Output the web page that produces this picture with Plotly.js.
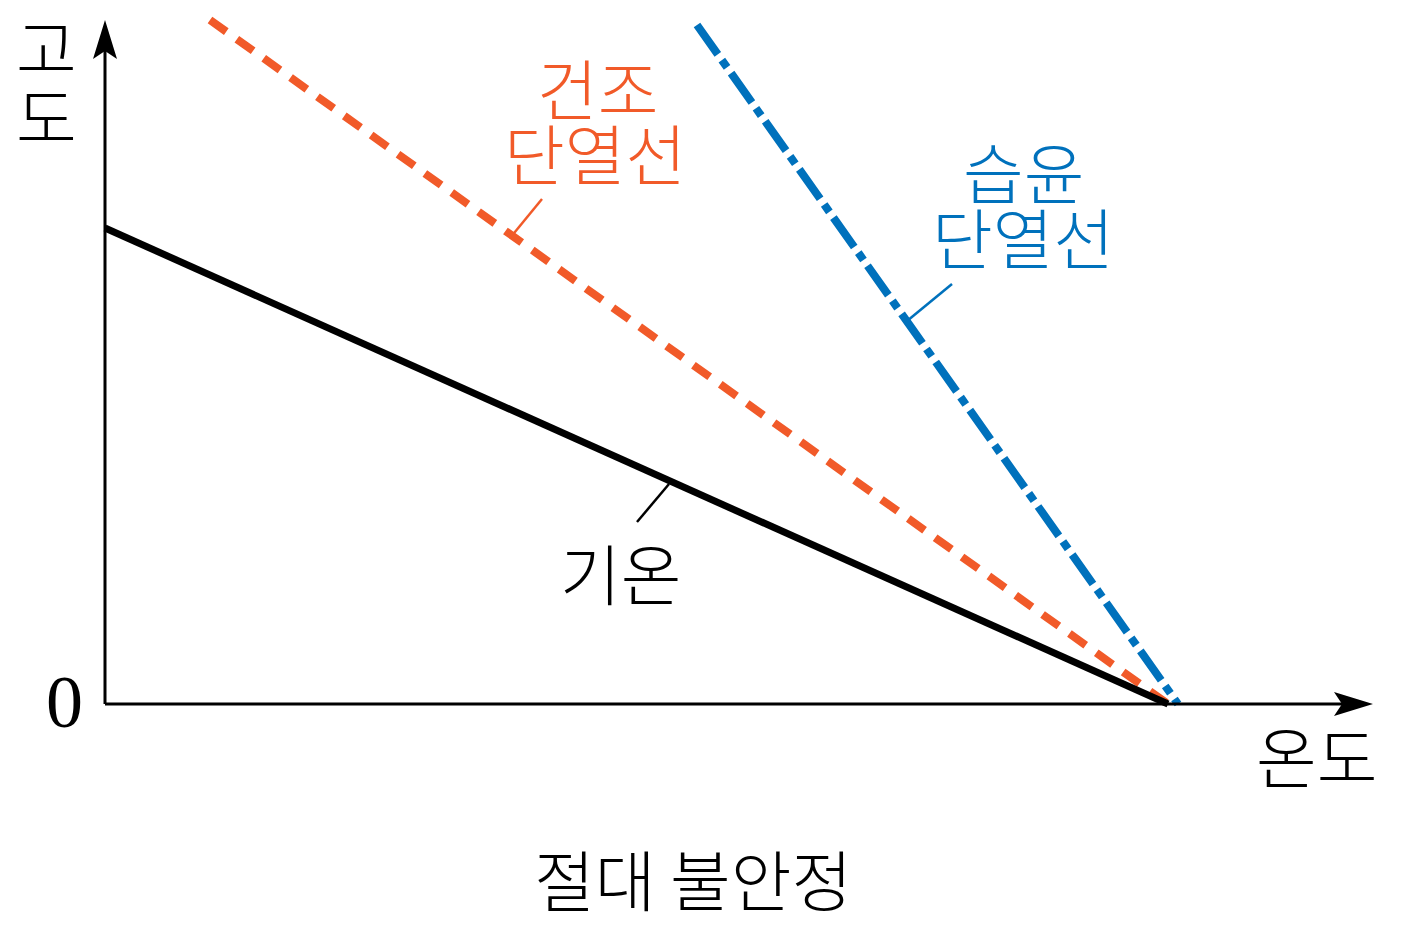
<!DOCTYPE html>
<html>
<head>
<meta charset="utf-8">
<script src="https://cdn.plot.ly/plotly-3.0.1.min.js"></script>
<style>html,body{margin:0;padding:0;background:#fff;}#chart{width:1410px;height:931px;}</style>
</head>
<body>
<div id="chart"></div>
<script>
// Schematic data (arbitrary units: temperature on x, altitude on y, origin at 0)
const seriesNames = ['건조 단열선', '기온', '습윤 단열선'];
const dryTemp   = [105, 1063];
const dryAlt    = [684, 0];
const airTemp   = [0, 1063];
const airAlt    = [476, 0];
const moistTemp = [592, 1073];
const moistAlt  = [679, 0];

// Axis extents and labels
const xAxisEnd = 1268;
const yAxisEnd = 684;
const xAxisLabel = '온도';
const yAxisLabelChars = ['고', '도'];
const originLabel = '0';
const chartTitle = '절대 불안정';
const dryLabelLines = ['건조', '단열선'];
const moistLabelLines = ['습윤', '단열선'];
const airLabel = '기온';

const ORANGE = '#F15A29';
const BLUE = '#0071BC';
const BLACK = '#000000';
const KFONT = '"Noto Sans CJK KR", "Noto Sans", sans-serif';
const FS = 66;

const traces = [
  {x: dryTemp, y: dryAlt, mode: 'lines', name: seriesNames[0],
   line: {color: ORANGE, width: 8, dash: '20px,13px'}},
  {x: airTemp, y: airAlt, mode: 'lines', name: seriesNames[1],
   line: {color: BLACK, width: 7}},
  {x: moistTemp, y: moistAlt, mode: 'lines', name: seriesNames[2],
   line: {color: BLUE, width: 8, dash: '36px,7px,9px,7px'}}
];

// arrowheads built from axis ends
const L = 39, H = 12, N = 8;
const yHead = `M 0 ${yAxisEnd} L ${-H} ${yAxisEnd - L} L 0 ${yAxisEnd - L + N} L ${H} ${yAxisEnd - L} Z`;
const xHead = `M ${xAxisEnd} 0 L ${xAxisEnd - L} ${H} L ${xAxisEnd - L + N} 0 L ${xAxisEnd - L} ${-H} Z`;

const shapes = [
  {type: 'line', x0: 0, y0: 0, x1: 0, y1: yAxisEnd - 20, line: {color: BLACK, width: 3}},
  {type: 'line', x0: 0, y0: 0, x1: xAxisEnd - 20, y1: 0, line: {color: BLACK, width: 3}},
  {type: 'path', path: yHead, fillcolor: BLACK, line: {width: 0}},
  {type: 'path', path: xHead, fillcolor: BLACK, line: {width: 0}},
  // leader lines
  {type: 'line', x0: 437, y0: 505, x1: 405, y1: 466, line: {color: ORANGE, width: 2.5}},
  {type: 'line', x0: 847, y0: 420, x1: 802, y1: 383, line: {color: BLUE, width: 2.5}},
  {type: 'line', x0: 532, y0: 182, x1: 564, y1: 220, line: {color: BLACK, width: 2.5}}
];

function txt(t, x, y, color, size, family, weight) {
  return {text: t, x: x, y: y, xref: 'x', yref: 'y', showarrow: false,
          xanchor: 'center', yanchor: 'middle',
          font: {family: family || KFONT, size: size || FS, color: color || BLACK,
                 weight: weight || 300}};
}

const annotations = [
  txt(dryLabelLines[0], 492, 618, ORANGE),
  txt(dryLabelLines[1], 490, 553, ORANGE),
  txt(moistLabelLines[0], 918, 534, BLUE),
  txt(moistLabelLines[1], 918, 469, BLUE),
  txt(airLabel, 515, 133, BLACK),
  txt(chartTitle, 588, -173, BLACK),
  txt(xAxisLabel, 1211, -50, BLACK),
  txt(yAxisLabelChars[0], -59, 659, BLACK),
  txt(yAxisLabelChars[1], -59, 590, BLACK),
  txt(originLabel, -41, 2, BLACK, 74, '"Liberation Serif", "DejaVu Serif", serif', 400)
];

const layout = {
  width: 1410, height: 931,
  margin: {l: 0, r: 0, t: 0, b: 0, pad: 0},
  paper_bgcolor: '#ffffff', plot_bgcolor: '#ffffff',
  showlegend: false,
  xaxis: {range: [-105, 1305], visible: false, fixedrange: true},
  yaxis: {range: [-227, 704], visible: false, fixedrange: true},
  shapes: shapes,
  annotations: annotations
};

Plotly.newPlot('chart', traces, layout, {displayModeBar: false, staticPlot: true});
</script>
</body>
</html>
